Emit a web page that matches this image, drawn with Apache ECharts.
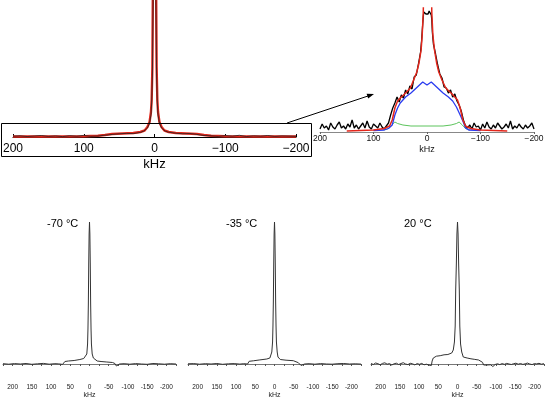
<!DOCTYPE html>
<html><head><meta charset="utf-8">
<script src="https://cdn.jsdelivr.net/npm/echarts@6/dist/echarts.min.js"></script>
<style>html,body{margin:0;padding:0;background:#fff}#c{width:546px;height:398px}</style>
</head><body><div id="c"></div>
<script>
// ---------- Top-left spectrum (full, with fit) ----------
const tlRedK = [200,150,100,80,70,60,45,30,20,14,10,7,5,4,3,2.4,2,0,-2,-2.4,-3,-4,-5,-7,-10,-14,-20,-30,-45,-60,-70,-80,-100,-150,-200];
const tlRedV = [0.5,0.5,0.8,1.2,2,3,3.5,4,5,6.5,10,15,25,37,70,137,170,300,170,137,70,37,25,15,10,6.5,5,4,3.5,3,2,1.2,0.8,0.5,0.5];
const tlBlkK = [200,190,180,170,160,150,140,130,120,110,100,90,80,70,60,50,40,30,20,15,10,7,5,4,3,2,1,0,-1,-2,-3,-4,-5,-7,-10,-15,-20,-30,-40,-50,-60,-70,-80,-90,-100,-110,-120,-130,-140,-150,-160,-170,-180,-190,-200];
const tlBlkV = [0.8,1.2,0.5,1,1.5,0.6,1.1,0.4,1.3,0.8,1.6,0.7,1,1.8,2.6,3.2,3.6,3.4,4.6,6,9,14,22,34,60,130,250,300,250,130,60,34,22,14,9,6,4.8,3.8,3.2,3.5,2.6,1.5,1.2,0.6,1.4,0.9,1.7,0.5,1.2,0.8,1.5,0.6,1.1,0.9,0.7];

// ---------- Top-right expanded spectrum with components ----------
const trBlackK = [200,196,192,188,184,180,176,172,168,164,160,156,152,148,144,140,136,132,128,124,120,116,112,108,104,100,96,92,88,84,80,76,
  72,68,64,60,56,52,48,44,40,36,32,28,24,20,16,12,10,8,7,6,4,2,0,-2,-4,-6,-8,-9,-10,-12,-16,-20,-24,-28,-32,-36,-40,-44,-48,-52,-56,-60,-64,-68,-72,
  -76,-80,-84,-88,-92,-96,-100,-104,-108,-112,-116,-120,-124,-128,-132,-136,-140,-144,-148,-152,-156,-160,-164,-168,-172,-176,-180,-184,-188,-192,-196,-200];
const trBlackV = [3,8,4,6,2,9,5,3,7,10,4,6,3,8,5,12,4,7,3,6,9,4,11,5,3,8,6,4,9,5,3,6,
  9,17,24,29,35,30,37,34,42,38,46,43,55,57,68,80,92,108,115,120,121,118,117,118,121,120,117,112,100,88,78,67,58,54,45,44,39,42,35,38,31,27,21,12,6,
  4,7,3,9,5,6,2,8,4,10,5,3,7,4,9,6,3,5,8,4,11,3,6,4,8,5,3,7,4,6,9,3];
const trRedK = [150,100,80,70,65,60,55,50,40,31,25,19,15,11,9,7,6,0,-8,-9,-11,-14,-18,-22,-28,-35,-45,-52,-57,-62,-67,-72,-82,-100,-150];
const trRedV = [1,2,3.5,6,12,24,31,34,39,44,52,60,69,82,97,119,150,300,150,119,97,82,69,60,52,44,39,35,32,24,12,6,3.5,2,1];
const trBlueK = [100,80,72,65,60,55,50,40,30,20,12,8,4,0,-4,-8,-12,-20,-30,-40,-48,-55,-62,-67,-72,-78,-100];
const trBlueV = [1.5,2,3.5,7,17,24,29,35,39,44,48,50,48.5,47,48.5,50,48,44,39,35,31,25,17,11,4,2,1.5];
const trGreenK = [80,72,66,60,55,45,30,0,-30,-45,-55,-60,-66,-72,-80];
const trGreenV = [2,3.5,7,10,8.5,7,6,6,6,7,8.5,10,7,3.5,2];

// ---------- Bottom: temperature series ----------
const temps = ['-70 \u00B0C', '-35 \u00B0C', '20 \u00B0C'];
const b1K = [225,210,195,180,165,150,135,120,105,90,80,70,66,64,55,40,25,15,10,7,5,4,3,2,1,0,-1,-2,-3,-4,-5,-7,-10,-15,-20,-30,-45,-60,-66,-70,-73,-78,-90,-105,-120,-135,-150,-165,-180,-195,-210,-225];
const b1V = [0.3,-0.2,0.4,0,0.5,-0.3,0.2,0.6,-0.2,0.3,0.1,-0.4,0,2.5,3,3.5,4.5,5.5,7,10,20,35,60,100,130,142,130,100,60,35,20,10,6,4,3,2.5,2,1.5,0.5,-2,-1.5,0,0.3,-0.2,0.4,0,-0.3,0.5,0.2,-0.2,0.3,0];
const b2K = [225,210,195,180,165,150,135,120,105,90,80,70,68,66,55,40,20,12,9,7,5,4,3,2,1,0,-1,-2,-3,-4,-5,-7,-9,-15,-30,-49,-62,-66,-69,-73,-78,-90,-105,-120,-135,-150,-165,-180,-195,-210,-225];
const b2V = [0.2,0.4,-0.2,0.3,0,0.5,-0.3,0.2,0.4,-0.1,0.3,0,-0.3,2.7,3.2,4,5,6,8,12,22,38,62,100,130,142,130,100,62,38,22,12,7,4.5,3.8,3.3,1.3,0.3,-1.5,-1,0,0.3,-0.2,0.4,0,-0.2,0.3,0.5,0,0.2,-0.1];
const b3K = [225,219,213,207,201,195,189,183,177,171,165,159,153,147,141,135,129,123,117,111,105,99,93,87,81,75,71,68,
  66,63,60,55,50,45,40,35,30,25,20,15,11,8,6,4.7,3,1.5,0,-1.5,-3,-4.7,-6,-8,-11,-15,-20,-25,-30,-35,-40,-45,-50,-55,-60,-65,-68,-71,-75,
  -80,-86,-92,-98,-104,-110,-116,-122,-128,-134,-140,-146,-152,-158,-164,-170,-176,-182,-188,-194,-200,-206,-212,-218,-225];
const b3V = [0.5,-0.5,1,0.3,-0.8,0.6,1.2,-0.2,0.4,-1,0.2,0.8,-0.5,0.5,1.3,0,-0.6,0.7,0.2,-0.9,0.4,-0.3,0.6,-0.8,-0.2,-1,-1.8,-1.5,
  3,6,7,7.8,7.2,8.3,8,9.2,8.8,9.5,10,11,14,22,38,74,100,130,142,130,100,74,38,20,12,7,6.5,6,5.5,5.2,5,4.6,4.3,4,3,1.7,-1,-2.3,-1,
  -0.3,-0.8,-2.5,-0.5,0.2,-0.6,0.4,-0.3,0.6,0,-0.5,0.3,0.8,-0.2,0.5,-0.4,0.2,0.9,0,-0.6,0.4,0.1,0.7,-0.2,0.3];

const zip = (k, v) => k.map((x, i) => [x, v[i]]);
const FONT = 'Liberation Sans, Arial, Helvetica, sans-serif';
const minus = v => (v < 0 ? '\u2212' + Math.abs(v) : String(v));

const grids = [
  {left: 13, top: 0, width: 283, height: 137},
  {left: 320, top: 8, width: 214, height: 124},
  {left: 3, top: 222, width: 173, height: 159},
  {left: 188, top: 222, width: 173, height: 159},
  {left: 371, top: 222, width: 173, height: 159}
].map(g => Object.assign({outerBoundsMode: 'none', containLabel: false}, g));

const xAxes = [
  {gridIndex: 0, type: 'value', inverse: true, min: -200, max: 200, interval: 100,
   axisLine: {lineStyle: {color: '#000', width: 1}}, axisTick: {inside: true, length: 3, lineStyle: {color: '#000'}},
   splitLine: {show: false},
   axisLabel: {fontFamily: FONT, fontSize: 12, color: '#000', margin: 6, formatter: minus},
   name: 'kHz', nameLocation: 'middle', nameGap: 21, nameTextStyle: {fontFamily: FONT, fontSize: 13, color: '#000'}},
  {gridIndex: 1, type: 'value', inverse: true, min: -200, max: 200, interval: 100,
   axisLine: {lineStyle: {color: '#888', width: 1}}, axisTick: {length: 2, lineStyle: {color: '#666'}},
   splitLine: {show: false},
   axisLabel: {fontFamily: FONT, fontSize: 8.5, color: '#111', margin: 2, formatter: minus},
   name: 'kHz', nameLocation: 'middle', nameGap: 13, nameTextStyle: {fontFamily: FONT, fontSize: 9, color: '#111'}}
];
[2, 3, 4].forEach(gi => xAxes.push({
  gridIndex: gi, type: 'value', inverse: true, min: -225, max: 225, interval: 25,
  axisLine: {lineStyle: {color: '#777', width: 1}}, axisTick: {length: 2, lineStyle: {color: '#555'}},
  splitLine: {show: false},
  axisLabel: {fontFamily: FONT, fontSize: 6.5, color: '#222', margin: 3,
    formatter: v => (v % 50 === 0 ? String(v) : '')},
  name: 'kHz', nameLocation: 'middle', nameGap: 8.5, nameTextStyle: {fontFamily: FONT, fontSize: 7, color: '#222'}
}));

const yAxes = [
  {gridIndex: 0, type: 'value', min: 0, max: 137, show: false},
  {gridIndex: 1, type: 'value', min: 0, max: 124, show: false},
  {gridIndex: 2, type: 'value', min: -17, max: 142, show: false},
  {gridIndex: 3, type: 'value', min: -17, max: 142, show: false},
  {gridIndex: 4, type: 'value', min: -17, max: 142, show: false}
];

const ln = (gi, data, color, width, z) => ({
  type: 'line', xAxisIndex: gi, yAxisIndex: gi, data: data, symbol: 'none', clip: true,
  lineStyle: {color: color, width: width}, z: z || 2, silent: true
});

const series = [
  ln(0, zip(tlRedK, tlRedV), '#e3261b', 2.4, 2),
  ln(0, zip(tlBlkK, tlBlkV), '#222', 0.8, 3),
  ln(1, zip(trBlackK, trBlackV), '#000', 1.3, 2),
  ln(1, zip(trGreenK, trGreenV), '#5cc45c', 1, 3),
  ln(1, zip(trBlueK, trBlueV), '#2a3cf0', 1.3, 4),
  ln(1, zip(trRedK, trRedV), '#e3261b', 1.5, 5),
  ln(2, zip(b1K, b1V), '#333', 1, 2),
  ln(3, zip(b2K, b2V), '#333', 1, 2),
  ln(4, zip(b3K, b3V), '#333', 1, 2)
];

const tempPos = [[47, 224], [226, 224], [404, 224]];
const graphic = [
  {type: 'rect', shape: {x: 1.5, y: 123.5, width: 310, height: 33}, style: {fill: 'none', stroke: '#000', lineWidth: 1}, z: 10},
  {type: 'line', shape: {x1: 287, y1: 123, x2: 368, y2: 96}, style: {stroke: '#000', lineWidth: 1}, z: 10},
  {type: 'polygon', shape: {points: [[374, 94], [368.2, 98.6], [366.6, 93.8]]}, style: {fill: '#000'}, z: 10}
].concat(temps.map((t, i) => ({
  type: 'text', x: tempPos[i][0], y: tempPos[i][1], z: 10,
  style: {text: t, fontFamily: FONT, fontSize: 11, fill: '#000', verticalAlign: 'middle', align: 'left'}
})));

const chart = echarts.init(document.getElementById('c'), null, {renderer: 'canvas', width: 546, height: 398});
chart.setOption({
  animation: false, backgroundColor: '#fff',
  grid: grids, xAxis: xAxes, yAxis: yAxes, series: series, graphic: graphic
});
</script></body></html>
